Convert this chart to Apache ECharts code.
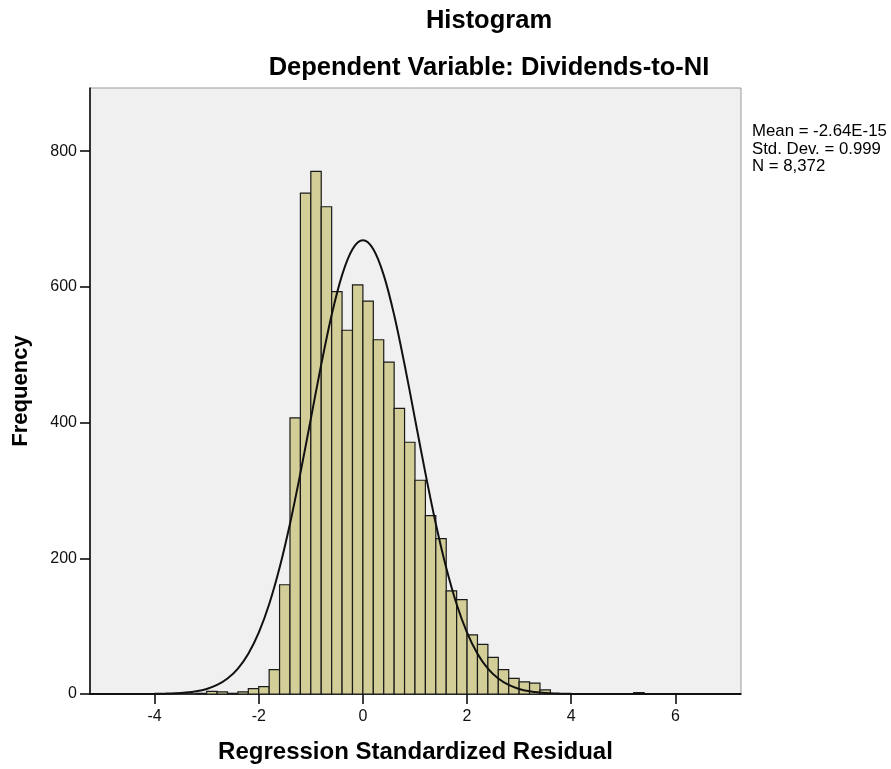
<!DOCTYPE html>
<html>
<head>
<meta charset="utf-8">
<script src="https://cdn.jsdelivr.net/npm/echarts@6/dist/echarts.min.js"></script>
<style>
html,body{margin:0;padding:0;background:#fff;}
#chart{width:891px;height:769px;}
</style>
</head>
<body>
<div id="chart"></div>
<script>
// Histogram bins (lower edge, width 0.2) and frequencies
var binLower = [-3.2,-3.0,-2.8,-2.6,-2.4,-2.2,-2.0,-1.8,-1.6,-1.4,-1.2,-1.0,-0.8,-0.6,-0.4,-0.2,0,0.2,0.4,0.6,0.8,1.0,1.2,1.4,1.6,1.8,2.0,2.2,2.4,2.6,2.8,3.0,3.2,3.4,5.2];
var binWidth = 0.2;
var counts = [1,4,3,1,3,8,11,36,161,407,738,770,718,593,536,603,579,522,489,421,371,315,263,229,152,139,87,73,54,36,23,18,16,6,2];
// Normal curve
var curveX = [-5.24,-4.4,-4.2,-4.0,-3.8,-3.6,-3.4,-3.2,-3.0,-2.8,-2.6,-2.4,-2.2,-2.0,-1.8,-1.6,-1.4,-1.2,-1.0,-0.8,-0.6,-0.4,-0.2,0,0.2,0.4,0.6,0.8,1.0,1.2,1.4,1.6,1.8,2.0,2.2,2.4,2.6,2.8,3.0,3.2,3.4,3.6,3.8,4.0,4.2,4.4,7.26];
var curveY = [0,0,0.1,0.2,0.5,1.0,2.1,4.0,7.4,13.3,22.8,37.5,59.4,90.5,132.3,185.9,250.9,325.5,405.5,485.5,558.5,617.2,655.4,668.6,655.4,617.2,558.5,485.5,405.5,325.5,250.9,185.9,132.3,90.5,59.4,37.5,22.8,13.3,7.4,4.0,2.1,1.0,0.5,0.2,0.1,0,0];
var xTicks = [-4,-2,0,2,4,6];
var yTicks = [0,200,400,600,800];
var titleText = 'Histogram';
var subtitleText = 'Dependent Variable: Dividends-to-NI';
var statsLines = ['Mean = -2.64E-15','Std. Dev. = 0.999','N = 8,372'];

var FONT = '"Liberation Sans", Arial, sans-serif';
var histData = binLower.map(function(lo, i){ return [lo, lo + binWidth, counts[i]]; });
var curveData = curveX.map(function(x, i){ return [x, curveY[i]]; });

var chart = echarts.init(document.getElementById('chart'), null, {renderer:'canvas'});
chart.setOption({
  backgroundColor: '#ffffff',
  animation: false,
  textStyle: {fontFamily: FONT},
  grid: {left: 90, right: 150, top: 88, bottom: 74, show: true, backgroundColor: '#f0f0f0', borderColor: '#9a9a9a', borderWidth: 1},
  xAxis: {
    type: 'value', min: -5.24, max: 7.26,
    name: 'Regression Standardized Residual', nameLocation: 'middle', nameGap: 46,
    nameTextStyle: {fontSize: 24, fontWeight: 'bold', color: '#000', fontFamily: FONT},
    axisLine: {onZero: false, lineStyle: {color: '#000', width: 1.5}},
    axisTick: {show: true, length: 10, lineStyle: {color: '#000', width: 1.5}, customValues: xTicks},
    axisLabel: {color: '#111', fontSize: 16, margin: 15, fontFamily: FONT, customValues: xTicks},
    splitLine: {show: false}
  },
  yAxis: {
    type: 'value', min: 0, max: 893,
    name: 'Frequency', nameLocation: 'middle', nameGap: 58, nameRotate: 90,
    nameTextStyle: {fontSize: 22, fontWeight: 'bold', color: '#000', fontFamily: FONT},
    axisLine: {show: true, onZero: false, lineStyle: {color: '#000', width: 1.5}},
    axisTick: {show: true, length: 10, lineStyle: {color: '#000', width: 1.5}, customValues: yTicks},
    axisLabel: {color: '#111', fontSize: 16, margin: 13, fontFamily: FONT, customValues: yTicks},
    splitLine: {show: false}
  },
  graphic: [
    {type: 'text', x: 489, y: 21, style: {text: titleText, font: 'bold 25.5px ' + FONT, fill: '#000', textAlign: 'center', textVerticalAlign: 'middle'}},
    {type: 'text', x: 489, y: 68, style: {text: subtitleText, font: 'bold 25.5px ' + FONT, fill: '#000', textAlign: 'center', textVerticalAlign: 'middle'}},
    {type: 'text', x: 752, y: 123, style: {text: statsLines.join('\n'), font: '16.8px ' + FONT, lineHeight: 17.5, fill: '#000', textAlign: 'left', textVerticalAlign: 'top'}}
  ],
  series: [
    {
      type: 'custom',
      data: histData,
      encode: {x: [0, 1], y: 2},
      renderItem: function(params, api){
        var p0 = api.coord([api.value(0), api.value(2)]);
        var p1 = api.coord([api.value(1), 0]);
        return {
          type: 'rect',
          shape: {x: p0[0], y: p0[1], width: p1[0] - p0[0], height: p1[1] - p0[1]},
          style: {fill: '#d3ce97', stroke: '#1a1a1a', lineWidth: 1.2}
        };
      },
      z: 2
    },
    {
      type: 'line',
      data: curveData,
      showSymbol: false,
      smooth: 0.35,
      lineStyle: {color: '#111', width: 2},
      z: 3
    }
  ]
});
</script>
</body>
</html>
